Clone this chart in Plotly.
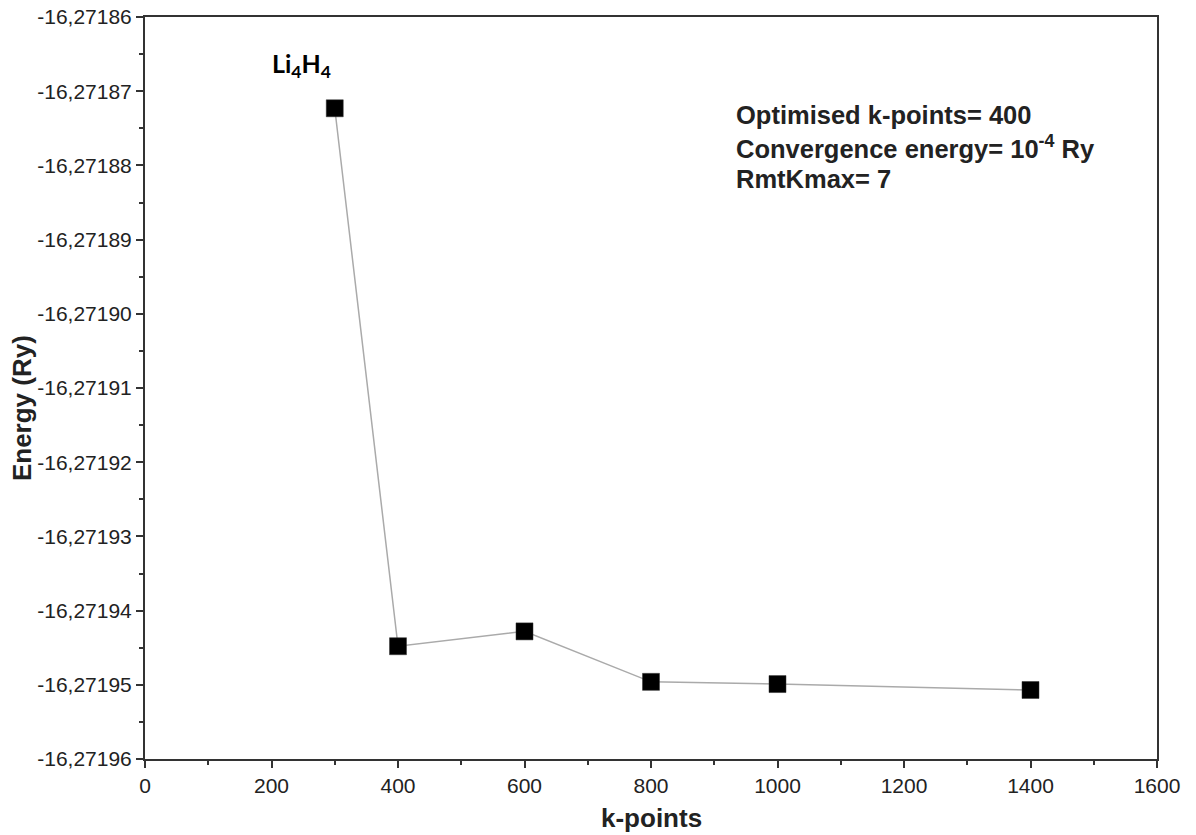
import plotly.graph_objects as go

k_points = [300, 400, 600, 800, 1000, 1400]
energy = [-16.2718723, -16.2719448, -16.2719428, -16.2719496, -16.2719499, -16.2719507]

x_ticks = [0, 200, 400, 600, 800, 1000, 1200, 1400, 1600]
y_ticks = [-16.27196 + i * 0.00001 for i in range(11)]
y_tick_labels = ["-16,%05d" % (27196 - i) for i in range(11)]

info_lines = [
    "Optimised k-points= 400",
    "Convergence energy= 10<sup>-4</sup> Ry",
    "RmtKmax= 7",
]
info_y = [-16.2718732, -16.2718775, -16.2718818]

fig = go.Figure()
fig.add_trace(go.Scatter(
    x=k_points, y=energy, mode="lines+markers",
    line=dict(color="#aaaaaa", width=1.5),
    marker=dict(symbol="square", size=17, color="black",
                line=dict(color="#333333", width=0.5)),
    showlegend=False,
))

font_tick = dict(family="Liberation Sans, Arial, sans-serif", size=21, color="#222222")
font_title = dict(family="Liberation Sans, Arial, sans-serif", size=26, color="#222222")
font_info = dict(family="Liberation Sans, Arial, sans-serif", size=25.5, color="#222222")

fig.update_layout(
    width=1196, height=835,
    margin=dict(l=145, r=39, t=17, b=76),
    plot_bgcolor="white", paper_bgcolor="white",
    xaxis=dict(
        range=[0, 1600], tickvals=x_ticks, ticktext=[str(v) for v in x_ticks],
        showgrid=False, zeroline=False, automargin=False, ticklabeloverflow="allow",
        showline=True, linecolor="#333333", linewidth=2, mirror=True,
        ticks="outside", ticklen=7, tickwidth=2, tickcolor="#333333",
        minor=dict(dtick=100, tick0=0, ticks="outside", ticklen=4, tickwidth=2, tickcolor="#333333"),
        tickfont=font_tick,
    ),
    yaxis=dict(
        range=[-16.27196, -16.27186], tickvals=y_ticks, ticktext=y_tick_labels,
        showgrid=False, zeroline=False, automargin=False, ticklabeloverflow="allow",
        showline=True, linecolor="#333333", linewidth=2, mirror=True,
        ticks="outside", ticklen=7, tickwidth=2, tickcolor="#333333",
        minor=dict(dtick=0.000005, tick0=-16.27196, ticks="outside", ticklen=4, tickwidth=2, tickcolor="#333333"),
        tickfont=font_tick,
    ),
)

# axis titles
fig.add_annotation(
    x=0.5, y=-0.0795, xref="paper", yref="paper", xanchor="center", yanchor="middle",
    text="<b>k-points</b>", showarrow=False, font=font_title,
)
fig.add_annotation(
    x=-0.1215, y=0.473, xref="paper", yref="paper", xanchor="center", yanchor="middle",
    text="<b>Energy (Ry)</b>", showarrow=False, textangle=-90, font=font_title,
)

fig.add_annotation(
    x=248, y=-16.2718665, xref="x", yref="y",
    text="<b>Li<sub>4</sub>H<sub>4</sub></b>", showarrow=False,
    font=dict(family="Lato, Open Sans, sans-serif", size=25, color="black"),
)

for line, yv in zip(info_lines, info_y):
    fig.add_annotation(
        x=932, y=yv, xref="x", yref="y",
        text="<b>" + line + "</b>", showarrow=False, xanchor="left", align="left",
        font=font_info,
    )

fig.write_html("out.html", config={"displayModeBar": False},
               post_script="document.body.style.margin='0px';")
